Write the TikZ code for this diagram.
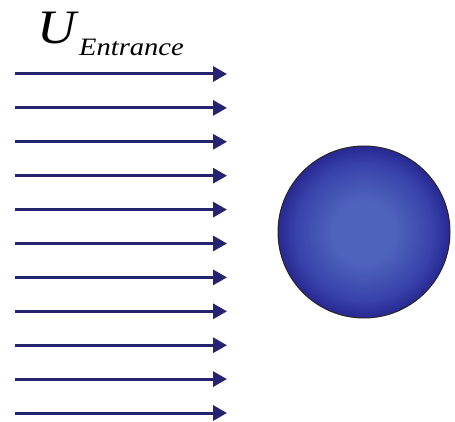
\documentclass[tikz,border=0pt]{standalone}
\usepackage{fontspec}
\setmainfont{Liberation Serif}
\usetikzlibrary{arrows.meta}
\definecolor{flow}{RGB}{38,36,112}
\definecolor{sphin}{RGB}{78,100,188}
\definecolor{sphmid}{RGB}{56,66,170}
\definecolor{sphout}{RGB}{40,40,145}
\pgfdeclareradialshading{spheresh}{\pgfpoint{0bp}{0bp}}{color(0bp)=(sphin); color(9bp)=(sphin); color(20bp)=(sphmid); color(25bp)=(sphout); color(50bp)=(sphout)}
\tikzset{
  flowarrow/.style={draw=flow, line width=3pt, -{Triangle[length=14pt,width=15pt]}},
  sphere/.style={circle, draw=black!85, line width=1pt, shading=spheresh, minimum size=172pt, inner sep=0pt},
}
\begin{document}
\begin{tikzpicture}[x=1pt,y=-1pt]
\useasboundingbox (0,0) rectangle (455,422);
\foreach \i in {0,...,10}{
  \coordinate (s\i) at (15,{74+\i*33.9});
  \coordinate (e\i) at (227,{74+\i*33.9});
  \draw[flowarrow] (s\i) -- (e\i);
}
\node[sphere] (ball) at (364,232) {};
\node[anchor=base west, inner sep=0pt, xscale=1.12, font=\fontsize{48}{52}\selectfont\itshape] (U) at (37,44) {U};
\node[anchor=base west, inner sep=0pt, xscale=1.14, font=\fontsize{25}{28}\selectfont\itshape] (sub) at (79,56) {Entrance};
\end{tikzpicture}
\end{document}
